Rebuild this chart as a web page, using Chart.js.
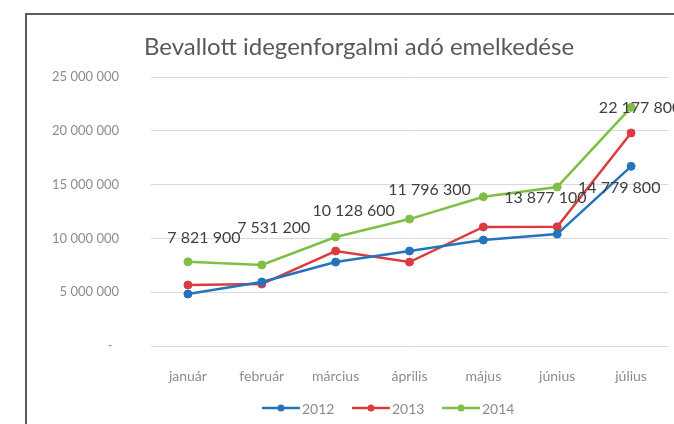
<!DOCTYPE html>
<html>
<head>
<meta charset="utf-8">
<script src="https://cdn.jsdelivr.net/npm/chart.js@4"></script>
<style>
    html, body { margin: 0; padding: 0; background: #fff; overflow: hidden; }
    body { width: 674px; height: 424px; position: relative; }
    .frame {
        position: absolute;
        left: 25px;
        top: 13px;
        width: 700px;
        height: 440px;
        border: 2px solid #5c5c5c;
        background: #fff;
    }
    canvas { display: block; }
</style>
</head>
<body>
<div class="frame">
    <canvas id="tax-chart" width="660" height="420"></canvas>
</div>
<script>
// Monthly declared tourist tax (HUF)
const months = ['január', 'február', 'március', 'április', 'május', 'június', 'július'];
const years = ['2012', '2013', '2014'];
const values2012 = [4830000, 5950000, 7800000, 8830000, 9850000, 10400000, 16700000];
const values2013 = [5670000, 5760000, 8830000, 7800000, 11060000, 11080000, 19800000];
const values2014 = [7821900, 7531200, 10128600, 11796300, 13877100, 14779800, 22177800];
const yTicks = [0, 5000000, 10000000, 15000000, 20000000, 25000000];

const titleText = 'Bevallott idegenforgalmi adó emelkedése';
const seriesColors = ['#2474bb', '#db3b3f', '#80bf45'];
const fontFamily = 'Lato, "Open Sans", sans-serif';

// hand-placed label nudges (px) like the manually dragged Excel labels
const labelNudge = [[16, -24], [12, -37], [18, -26], [20, -29], [62, 1], [62, 1], [9, 0]];

const fmt = (v) => String(v).replace(/\B(?=(\d{3})+(?!\d))/g, ' ');

const decorPlugin = {
    id: 'decor',
    afterDatasetsDraw(chart) {
        const { ctx, chartArea } = chart;
        ctx.save();

        // title
        ctx.font = `24px ${fontFamily}`;
        ctx.fillStyle = '#595959';
        ctx.textAlign = 'center';
        ctx.textBaseline = 'middle';
        ctx.fillText(titleText, 332, 32);

        // data labels for 2014
        const meta = chart.getDatasetMeta(2);
        ctx.font = `16px ${fontFamily}`;
        ctx.fillStyle = '#404040';
        meta.data.forEach((pt, i) => {
            const [dx, dy] = labelNudge[i];
            ctx.fillText(fmt(values2014[i]), pt.x + dx, pt.y + dy);
        });

        // legend
        ctx.font = `14px ${fontFamily}`;
        ctx.textAlign = 'left';
        const y = chartArea.bottom + 62;
        let x = 235;
        years.forEach((label, i) => {
            ctx.strokeStyle = seriesColors[i];
            ctx.lineWidth = 2.5;
            ctx.beginPath();
            ctx.moveTo(x, y);
            ctx.lineTo(x + 38, y);
            ctx.stroke();
            ctx.fillStyle = seriesColors[i];
            ctx.beginPath();
            ctx.arc(x + 19, y, 3.5, 0, Math.PI * 2);
            ctx.fill();
            ctx.fillStyle = '#8c8c8c';
            ctx.fillText(label, x + 40, y + 1);
            x += 90;
        });

        ctx.restore();
    }
};

function makeDataset(label, data, color) {
    return {
        label,
        data,
        borderColor: color,
        backgroundColor: color,
        borderWidth: 2.5,
        tension: 0,
        pointRadius: 4,
        pointHoverRadius: 4,
        pointBackgroundColor: color,
        pointBorderColor: color,
        pointBorderWidth: 1,
    };
}

const ctx = document.getElementById('tax-chart').getContext('2d');
new Chart(ctx, {
    type: 'line',
    data: {
        labels: months,
        datasets: [
            makeDataset(years[0], values2012, seriesColors[0]),
            makeDataset(years[1], values2013, seriesColors[1]),
            makeDataset(years[2], values2014, seriesColors[2]),
        ]
    },
    options: {
        responsive: false,
        animation: false,
        layout: { padding: { left: 20, right: 19, top: 62, bottom: 39 } },
        plugins: {
            legend: { display: false },
            title: { display: false },
            tooltip: { enabled: false }
        },
        scales: {
            x: {
                offset: true,
                grid: { display: false },
                border: { display: false },
                ticks: {
                    color: '#8c8c8c',
                    font: { family: fontFamily, size: 14 },
                    padding: 14,
                    maxRotation: 0
                },
                afterFit: (s) => { s.height = 50; }
            },
            y: {
                min: 0,
                max: 25000000,
                afterBuildTicks: (s) => { s.ticks = yTicks.map((v) => ({ value: v })); },
                grid: { color: '#d9d9d9', lineWidth: 1, drawTicks: false },
                border: { display: false },
                ticks: {
                    color: '#8c8c8c',
                    font: { family: fontFamily, size: 13 },
                    padding: 32,
                    callback: (v) => v === 0 ? '-  ' : fmt(v)
                },
                afterFit: (s) => { s.width = 104; }
            }
        }
    },
    plugins: [decorPlugin]
});
</script>
</body>
</html>
